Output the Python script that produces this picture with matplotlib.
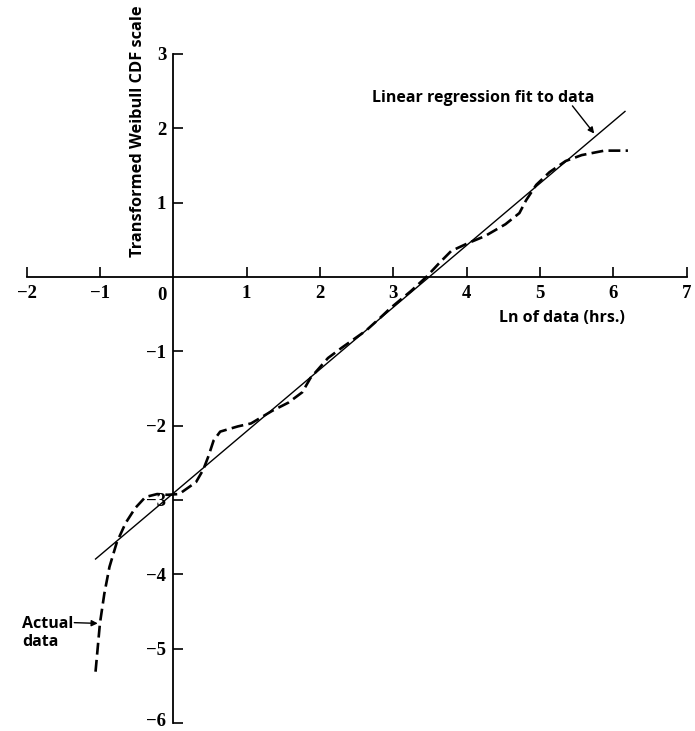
import numpy as np
import matplotlib
matplotlib.use('Agg')
import matplotlib.pyplot as plt
import matplotlib.transforms as mtransforms

# ln(hours) against the transformed Weibull CDF value
ln_hours = [-1.06, -1.0, -0.94, -0.87, -0.77, -0.65, -0.52, -0.38, -0.22, -0.08,
            0.08, 0.31, 0.41, 0.48, 0.55, 0.64, 0.88, 1.06, 1.35, 1.57,
            1.76, 1.87, 2.11, 2.3, 2.63, 2.82, 2.96, 3.24, 3.45, 3.62,
            3.79, 4.03, 4.25, 4.53, 4.72, 4.81, 4.95, 5.13, 5.35, 5.57,
            5.88, 6.2]
weibull_y = [-5.31, -4.66, -4.26, -3.9, -3.57, -3.31, -3.11, -2.96, -2.92, -2.93,
             -2.92, -2.76, -2.59, -2.41, -2.2, -2.08, -2.01, -1.97, -1.8, -1.69,
             -1.55, -1.36, -1.09, -0.95, -0.72, -0.55, -0.42, -0.19, 0.0, 0.18,
             0.35, 0.46, 0.55, 0.71, 0.86, 1.03, 1.24, 1.41, 1.56, 1.64,
             1.7, 1.7]

# regression line
fit_slope = 0.834
fit_intercept = -2.91
fit_range = [-1.06, 6.16]

x_ticks = [-2, -1, 1, 2, 3, 4, 5, 6, 7]
y_ticks = [-6, -5, -4, -3, -2, -1, 1, 2, 3]

num_font = dict(family='Liberation Serif', weight='bold', size=13.5)
lab_font = dict(family=['Open Sans', 'DejaVu Sans'], weight='bold')

fig = plt.figure(figsize=(6.95, 7.31), dpi=100)
ax = fig.add_axes([26.6/695, 8/731, 660/695, 669/731])

fx = np.array(fit_range)
ax.plot(fx, fit_slope*fx + fit_intercept, color='black', lw=1.0)
line, = ax.plot(ln_hours, weibull_y, color='black', lw=1.9)
line.set_dashes([4.5, 2])

ax.set_xlim(-2, 7)
ax.set_ylim(-6, 3)
ax.spines['left'].set_position(('data', 0))
ax.spines['bottom'].set_position(('data', 0))
ax.spines['top'].set_visible(False)
ax.spines['right'].set_visible(False)
for s in ['left', 'bottom']:
    ax.spines[s].set_linewidth(1.3)

ax.set_xticks(x_ticks)
ax.set_xticklabels([str(t).replace('-', '\u2212') for t in x_ticks], **num_font)
ax.set_yticks(y_ticks)
ax.set_yticklabels([str(t).replace('-', '\u2212') for t in y_ticks], **num_font)
ax.tick_params(direction='in', length=7, width=1.2, pad=5)
ax.tick_params(axis='x', pad=6)

# keep the bottom label inside the canvas
lowest = ax.get_yticklabels()[0]
lowest.set_transform(lowest.get_transform() +
                     mtransforms.ScaledTranslation(0, 3/100, fig.dpi_scale_trans))

# origin label sits left of the vertical axis
ax.text(-0.15, -0.13, '0', ha='center', va='top', **num_font)

ax.text(-0.48, 1.96, 'Transformed Weibull CDF scale', rotation=90,
        ha='center', va='center', fontsize=11.8, clip_on=False, **lab_font)
ax.text(5.3, -0.55, 'Ln of data (hrs.)', ha='center', va='center',
        fontsize=11.5, **lab_font)

ax.annotate('Linear regression fit to data', xy=(5.74, 1.93), xytext=(4.23, 2.41),
            ha='center', va='center', fontsize=11.5, **lab_font,
            arrowprops=dict(arrowstyle='-|>', color='black', lw=1.0,
                            shrinkA=0, shrinkB=0, mutation_scale=9,
                            patchA=None, relpos=(0.9, 0.0)))
ax.text(-2.06, -4.79, 'Actual\ndata', ha='left', va='center', fontsize=11.5,
        linespacing=1.1, clip_on=False, **lab_font)
ax.annotate('', xy=(-1.03, -4.66), xytext=(-1.35, -4.65),
            arrowprops=dict(arrowstyle='-|>', color='black', lw=1.0,
                            shrinkA=0, shrinkB=0, mutation_scale=9))

fig.savefig('out.png', dpi=100)
